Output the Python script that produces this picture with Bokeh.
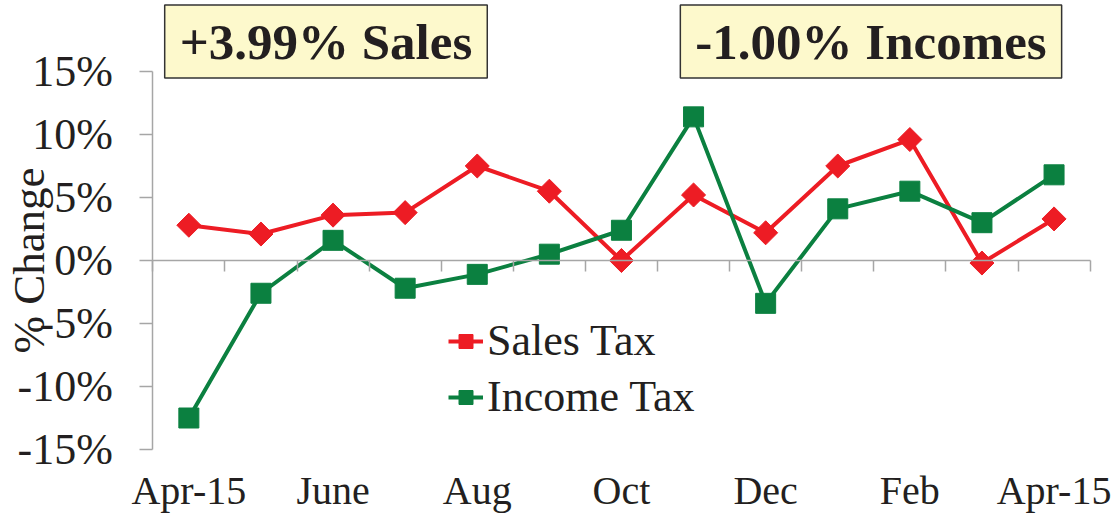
import math
from bokeh.plotting import figure
from bokeh.models import Range1d, FixedTicker, Label, Legend, LegendItem, ColumnDataSource, LinearAxis
from bokeh.embed import file_html
from bokeh.resources import INLINE

categories = ["Apr-15", "May", "June", "Jul", "Aug", "Sep", "Oct", "Nov", "Dec", "Jan", "Feb", "Mar", "Apr-15"]
sales_tax = [2.8, 2.1, 3.6, 3.8, 7.5, 5.5, 0.0, 5.2, 2.2, 7.5, 9.6, -0.2, 3.3]
income_tax = [-12.5, -2.6, 1.6, -2.2, -1.1, 0.5, 2.4, 11.4, -3.4, 4.1, 5.5, 3.0, 6.8]
y_ticks = [-15, -10, -5, 0, 5, 10, 15]
sales_note = "+3.99% Sales"
income_note = "-1.00% Incomes"

FONT = "Liberation Serif"
RED = "#ED1C24"
GREEN = "#0B8040"
AXIS_GRAY = "#A6A6A6"
TXT = "#231F20"

n = len(categories)
xs = [i + 0.5 for i in range(n)]

W, H = 1117, 518
X0, Y0 = 152.3, 260.0   # pixel position of the data origin (x=0, y=0%)
UX = 72.1               # px per category
UY = 12.6               # px per percent

p = figure(width=W, height=H, output_backend="svg", toolbar_location=None,
           x_range=Range1d(-X0 / UX, (W - X0) / UX),
           y_range=Range1d(-(H - Y0) / UY, Y0 / UY),
           min_border=0, min_border_left=0, min_border_right=0,
           min_border_top=0, min_border_bottom=0)
p.outline_line_color = None
p.grid.visible = False

# y axis at x=0
ya = p.yaxis[0]
ya.fixed_location = 0
ya.bounds = (-15, 15)
ya.ticker = FixedTicker(ticks=y_ticks)
ya.major_label_overrides = {t: f"{t}%" for t in y_ticks}
ya.major_label_text_font = FONT
ya.major_label_text_font_size = "44px"
ya.major_label_text_color = TXT
ya.axis_line_color = AXIS_GRAY
ya.axis_line_width = 1.5
ya.major_tick_line_color = AXIS_GRAY
ya.major_tick_line_width = 1.5
ya.major_tick_out = 13
ya.major_tick_in = 0
ya.minor_tick_line_color = None
ya.major_label_standoff = 27

# x axis line at 0% with ticks on category boundaries
xa = p.xaxis[0]
xa.fixed_location = 0
xa.bounds = (0, n)
xa.ticker = FixedTicker(ticks=list(range(n + 1)))
xa.major_label_text_color = None
xa.axis_line_color = AXIS_GRAY
xa.axis_line_width = 1.5
xa.major_tick_line_color = AXIS_GRAY
xa.major_tick_line_width = 1.5
xa.major_tick_out = 11
xa.major_tick_in = 0
xa.minor_tick_line_color = None

# category labels at the bottom
label_pos = [xs[i] for i in range(0, n, 2)]
xl = LinearAxis(fixed_location=-15, ticker=FixedTicker(ticks=label_pos),
                major_label_overrides={xs[i]: categories[i] for i in range(0, n, 2)},
                major_label_text_font=FONT, major_label_text_font_size="40px",
                major_label_text_color=TXT, axis_line_color=None,
                major_tick_line_color=None, minor_tick_line_color=None,
                major_label_standoff=12)
p.add_layout(xl, "below")

src = ColumnDataSource(dict(x=xs, sales=sales_tax, income=income_tax))
sl = p.line("x", "sales", source=src, line_color=RED, line_width=4)
sm = p.scatter("x", "sales", source=src, marker="square", angle=math.pi / 4, size=17,
               fill_color=RED, line_color=RED)
il = p.line("x", "income", source=src, line_color=GREEN, line_width=4)
im = p.scatter("x", "income", source=src, marker="square", size=20,
               fill_color=GREEN, line_color=GREEN)

legend = Legend(items=[LegendItem(label="Sales Tax", renderers=[sl, sm]),
                       LegendItem(label="Income Tax", renderers=[il, im])],
                location=(448, 96), orientation="vertical")
legend.label_text_font = FONT
legend.label_text_font_size = "44px"
legend.label_text_color = TXT
legend.border_line_color = None
legend.background_fill_alpha = 0
legend.padding = 0
legend.margin = 0
legend.spacing = 5
legend.label_height = 50
legend.glyph_height = 50
legend.glyph_width = 35
legend.label_standoff = 4
p.add_layout(legend, "center")

# y axis title
p.add_layout(Label(x=(28 - X0) / UX, y=0.0, text="% Change", angle=math.pi / 2,
                   text_font=FONT, text_font_size="45px", text_color=TXT,
                   text_align="center", text_baseline="middle"))

# note boxes
for xc, txt in [(2.402, sales_note), (9.961, income_note)]:
    p.add_layout(Label(x=xc, y=(Y0 - 41) / UY, text=txt, text_font=FONT, text_font_size="51px",
                       text_font_style="bold", text_color=TXT,
                       text_align="center", text_baseline="middle",
                       background_fill_color="#FDF9CC", border_line_color="#333333",
                       border_line_width=1.5,
                       padding=dict(left=15, right=15, top=9, bottom=8)))

open("out.html", "w").write(file_html(p, INLINE))
